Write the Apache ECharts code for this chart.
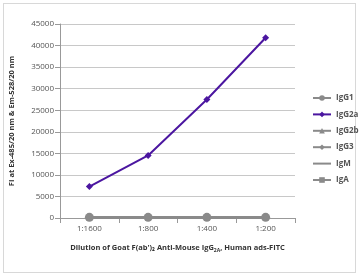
<!DOCTYPE html>
<html>
<head>
<meta charset="utf-8">
<script src="https://cdn.jsdelivr.net/npm/echarts@6/dist/echarts.min.js"></script>
<style>
  html, body { margin: 0; padding: 0; background: #fff; }
  #frame { position: absolute; left: 3px; top: 3px; width: 351px; height: 268px; border: 1px solid #d8d8d8; }
  #chart { position: absolute; left: 0; top: 0; width: 359px; height: 275px; }
</style>
</head>
<body>
<div id="frame"></div>
<div id="chart"></div>
<script>
const dilutions = ['1:1600', '1:800', '1:400', '1:200'];
const igg1 = [150, 150, 150, 150];
const igg2a = [7300, 14500, 27500, 41800];
const igg2b = [120, 120, 130, 140];
const igg3 = [100, 110, 110, 120];
const igm = [130, 130, 140, 150];
const iga = [110, 120, 120, 130];

const gray = '#8a8a8a';
const purple = '#4b16a0';

function grayLine(name, data, symbol, size) {
  return {
    name: name,
    type: 'line',
    data: data,
    symbol: symbol,
    symbolSize: size,
    lineStyle: { color: gray, width: 2 },
    itemStyle: { color: gray },
    z: 2
  };
}

const chart = echarts.init(document.getElementById('chart'));
chart.setOption({
  animation: false,
  textStyle: { fontFamily: 'Open Sans' },
  grid: { left: 60, right: 64, top: 24, bottom: 57 },
  legend: {
    orient: 'vertical',
    left: 307,
    top: 89,
    itemGap: 8.4,
    itemWidth: 18,
    itemHeight: 7,
    textStyle: { fontSize: 8, fontWeight: 'bold', color: '#555' },
    data: ['IgG1', 'IgG2a', 'IgG2b', 'IgG3', 'IgM', 'IgA']
  },
  xAxis: {
    type: 'category',
    data: dilutions,
    axisLine: { lineStyle: { color: '#999' } },
    axisTick: { show: true, lineStyle: { color: '#999' } },
    axisLabel: { fontSize: 8, color: '#555', margin: 7 },
    name: "Dilution of Goat F(ab')\u2082 Anti-Mouse IgG{s|2A}, Human ads-FITC",
    nameLocation: 'middle',
    nameGap: 25,
    nameTextStyle: {
      fontSize: 7.5, fontWeight: 'bold', color: '#333', lineHeight: 10,
      rich: { s: { fontSize: 5, fontWeight: 'bold', color: '#333', verticalAlign: 'bottom', lineHeight: 10 } }
    }
  },
  yAxis: {
    type: 'value',
    min: 0,
    max: 45000,
    interval: 5000,
    axisLine: { show: true, lineStyle: { color: '#999' } },
    axisTick: { show: true, lineStyle: { color: '#999' } },
    axisLabel: { fontSize: 8, color: '#555', margin: 6, formatter: v => String(v) },
    splitLine: { lineStyle: { color: '#c8c8c8' } },
    name: 'FI at Ex-485/20 nm & Em-528/20 nm',
    nameLocation: 'middle',
    nameGap: 44,
    nameTextStyle: { fontSize: 7.5, fontWeight: 'bold', color: '#333' }
  },
  series: [
    grayLine('IgG1', igg1, 'circle', 9),
    {
      name: 'IgG2a',
      type: 'line',
      data: igg2a,
      symbol: 'diamond',
      symbolSize: 7,
      lineStyle: { color: purple, width: 2 },
      itemStyle: { color: purple },
      z: 3
    },
    grayLine('IgG2b', igg2b, 'triangle', 6),
    grayLine('IgG3', igg3, 'diamond', 5),
    grayLine('IgM', igm, 'path://M0,0L10,10M10,0L0,10M5,0L5,10', 5),
    grayLine('IgA', iga, 'rect', 5)
  ]
});
</script>
</body>
</html>
